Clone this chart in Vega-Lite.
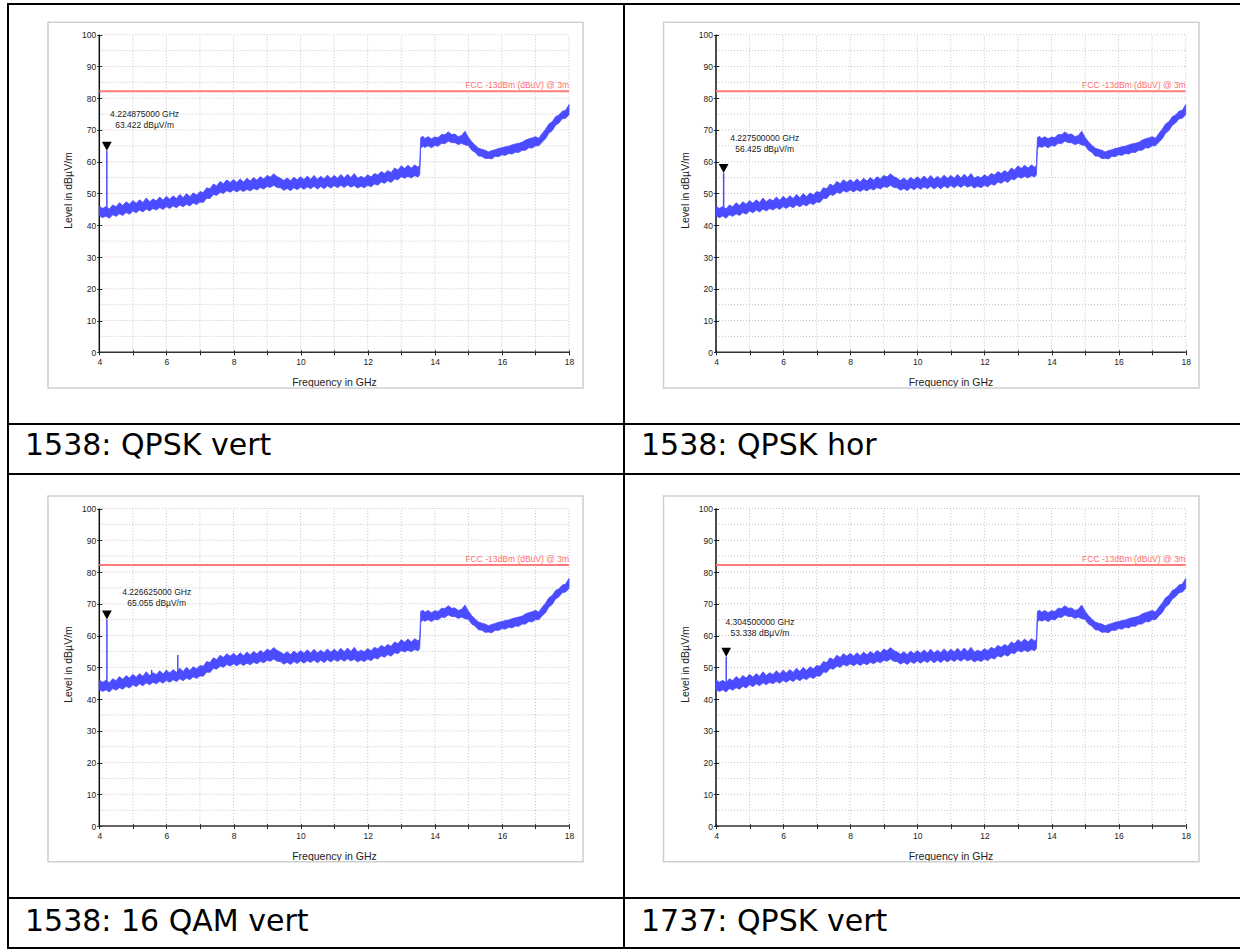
{
"$schema": "https://vega.github.io/schema/vega-lite/v6.json",
"background": "white",
"padding": {"left": 7, "top": 3, "right": 0, "bottom": 0},
"autosize": {"type": "pad"},
"bounds": "flush",
"spacing": 0,
"columns": 2,
"config": {"view": {"stroke": "black", "strokeWidth": 2}, "font": "Liberation Sans"},
"datasets": {
"trace": [
{"f":4.0,"lo":43.0,"hi":46.0},{"f":4.1,"lo":42.4,"hi":45.3},{"f":4.2,"lo":42.9,"hi":45.9},{"f":4.3,"lo":42.2,"hi":45.1},{"f":4.4,"lo":43.3,"hi":46.4},
{"f":4.5,"lo":42.8,"hi":45.8},{"f":4.6,"lo":43.6,"hi":47.1},{"f":4.7,"lo":43.1,"hi":46.2},{"f":4.8,"lo":44.0,"hi":47.4},{"f":4.9,"lo":43.5,"hi":46.6},
{"f":5.0,"lo":44.5,"hi":47.8},{"f":5.1,"lo":43.9,"hi":46.9},{"f":5.2,"lo":44.8,"hi":48.0},{"f":5.3,"lo":44.2,"hi":47.2},{"f":5.4,"lo":45.1,"hi":48.6},
{"f":5.5,"lo":44.5,"hi":47.4},{"f":5.6,"lo":45.3,"hi":48.3},{"f":5.7,"lo":44.8,"hi":47.7},{"f":5.8,"lo":45.6,"hi":48.9},{"f":5.9,"lo":45.0,"hi":47.9},
{"f":6.0,"lo":45.9,"hi":49.1},{"f":6.1,"lo":45.3,"hi":48.2},{"f":6.2,"lo":46.1,"hi":49.3},{"f":6.3,"lo":45.5,"hi":48.4},{"f":6.4,"lo":46.4,"hi":49.7},
{"f":6.5,"lo":45.8,"hi":48.7},{"f":6.6,"lo":46.6,"hi":50.0},{"f":6.7,"lo":46.1,"hi":49.0},{"f":6.8,"lo":47.0,"hi":50.2},{"f":6.9,"lo":46.5,"hi":49.5},
{"f":7.0,"lo":47.3,"hi":50.6},{"f":7.1,"lo":47.2,"hi":50.3},{"f":7.2,"lo":48.5,"hi":51.8},{"f":7.3,"lo":48.4,"hi":51.5},{"f":7.4,"lo":49.7,"hi":53.0},
{"f":7.5,"lo":49.4,"hi":52.4},{"f":7.6,"lo":50.4,"hi":53.8},{"f":7.7,"lo":50.0,"hi":53.1},{"f":7.8,"lo":50.9,"hi":54.3},{"f":7.9,"lo":50.4,"hi":53.5},
{"f":8.0,"lo":51.1,"hi":54.4},{"f":8.1,"lo":50.5,"hi":53.5},{"f":8.2,"lo":51.2,"hi":54.6},{"f":8.3,"lo":50.6,"hi":53.6},{"f":8.4,"lo":51.3,"hi":54.8},
{"f":8.5,"lo":50.8,"hi":53.9},{"f":8.6,"lo":51.6,"hi":55.0},{"f":8.7,"lo":51.1,"hi":54.2},{"f":8.8,"lo":51.9,"hi":55.3},{"f":8.9,"lo":51.4,"hi":54.6},
{"f":9.0,"lo":52.2,"hi":55.7},{"f":9.1,"lo":51.9,"hi":55.2},{"f":9.2,"lo":52.6,"hi":56.2},{"f":9.3,"lo":51.9,"hi":55.3},{"f":9.4,"lo":51.8,"hi":54.8},
{"f":9.5,"lo":51.0,"hi":54.1},{"f":9.6,"lo":51.6,"hi":54.9},{"f":9.7,"lo":50.9,"hi":54.0},{"f":9.8,"lo":51.8,"hi":55.1},{"f":9.9,"lo":51.2,"hi":54.3},
{"f":10.0,"lo":52.0,"hi":55.3},{"f":10.1,"lo":51.3,"hi":54.4},{"f":10.2,"lo":52.1,"hi":55.5},{"f":10.3,"lo":51.5,"hi":54.5},{"f":10.4,"lo":52.3,"hi":55.7},
{"f":10.5,"lo":51.4,"hi":54.5},{"f":10.6,"lo":52.2,"hi":55.4},{"f":10.7,"lo":51.5,"hi":54.6},{"f":10.8,"lo":52.4,"hi":55.8},{"f":10.9,"lo":51.7,"hi":54.7},
{"f":11.0,"lo":52.5,"hi":55.7},{"f":11.1,"lo":51.8,"hi":54.8},{"f":11.2,"lo":52.6,"hi":56.0},{"f":11.3,"lo":51.9,"hi":54.9},{"f":11.4,"lo":52.7,"hi":56.1},
{"f":11.5,"lo":52.0,"hi":55.0},{"f":11.6,"lo":52.5,"hi":56.3},{"f":11.7,"lo":51.7,"hi":54.8},{"f":11.8,"lo":52.3,"hi":55.4},{"f":11.9,"lo":51.8,"hi":54.9},
{"f":12.0,"lo":52.6,"hi":55.9},{"f":12.1,"lo":52.1,"hi":55.2},{"f":12.2,"lo":53.0,"hi":56.3},{"f":12.3,"lo":52.6,"hi":55.8},{"f":12.4,"lo":53.6,"hi":56.9},
{"f":12.5,"lo":53.2,"hi":56.3},{"f":12.6,"lo":54.0,"hi":57.2},{"f":12.7,"lo":53.5,"hi":56.6},{"f":12.8,"lo":54.6,"hi":58.0},{"f":12.9,"lo":54.3,"hi":57.4},
{"f":13.0,"lo":55.3,"hi":58.7},{"f":13.1,"lo":54.8,"hi":57.9},{"f":13.2,"lo":55.4,"hi":58.9},{"f":13.3,"lo":54.9,"hi":58.0},{"f":13.4,"lo":55.6,"hi":59.0},
{"f":13.5,"lo":55.2,"hi":58.3},{"f":13.55,"lo":55.9,"hi":58.9},{"f":13.58,"lo":64.2,"hi":67.6},{"f":13.65,"lo":64.9,"hi":68.0},{"f":13.7,"lo":64.5,"hi":67.3},
{"f":13.8,"lo":65.0,"hi":67.9},{"f":13.9,"lo":64.4,"hi":67.2},{"f":14.0,"lo":65.1,"hi":67.8},{"f":14.1,"lo":64.9,"hi":67.6},{"f":14.2,"lo":65.8,"hi":68.6},
{"f":14.3,"lo":65.7,"hi":68.5},{"f":14.4,"lo":66.5,"hi":69.4},{"f":14.5,"lo":66.0,"hi":68.6},{"f":14.6,"lo":66.0,"hi":68.7},{"f":14.7,"lo":65.4,"hi":67.9},
{"f":14.8,"lo":65.8,"hi":68.3},{"f":14.9,"lo":65.3,"hi":69.6},{"f":15.0,"lo":65.1,"hi":67.7},{"f":15.1,"lo":63.6,"hi":66.3},{"f":15.2,"lo":63.0,"hi":65.2},
{"f":15.3,"lo":61.8,"hi":64.3},{"f":15.4,"lo":61.7,"hi":63.9},{"f":15.5,"lo":61.0,"hi":63.6},{"f":15.6,"lo":61.1,"hi":63.1},{"f":15.7,"lo":60.9,"hi":63.5},
{"f":15.8,"lo":61.7,"hi":63.8},{"f":15.9,"lo":61.6,"hi":64.2},{"f":16.0,"lo":62.2,"hi":64.4},{"f":16.1,"lo":62.0,"hi":64.7},{"f":16.2,"lo":62.6,"hi":64.9},
{"f":16.3,"lo":62.4,"hi":65.3},{"f":16.4,"lo":63.0,"hi":65.6},{"f":16.5,"lo":62.9,"hi":65.8},{"f":16.6,"lo":63.6,"hi":66.1},{"f":16.7,"lo":63.6,"hi":66.8},
{"f":16.8,"lo":64.4,"hi":67.2},{"f":16.9,"lo":64.3,"hi":67.5},{"f":17.0,"lo":65.0,"hi":67.9},{"f":17.1,"lo":65.0,"hi":67.4},{"f":17.2,"lo":66.2,"hi":68.9},
{"f":17.3,"lo":67.2,"hi":70.2},{"f":17.4,"lo":69.0,"hi":71.9},{"f":17.5,"lo":69.8,"hi":72.6},{"f":17.6,"lo":71.5,"hi":74.2},{"f":17.7,"lo":72.2,"hi":74.7},
{"f":17.8,"lo":73.5,"hi":75.9},{"f":17.9,"lo":73.7,"hi":76.2},{"f":18.0,"lo":74.8,"hi":78.0}
],
"gx": [{"f":5},{"f":6},{"f":7},{"f":8},{"f":9},{"f":10},{"f":11},{"f":12},{"f":13},{"f":14},{"f":15},{"f":16},{"f":17},{"f":18}],
"gy": [{"v":5},{"v":10},{"v":15},{"v":20},{"v":25},{"v":30},{"v":35},{"v":40},{"v":45},{"v":50},{"v":55},{"v":60},{"v":65},{"v":70},{"v":75},{"v":80},{"v":85},{"v":90},{"v":95},{"v":100}],
"m1": [{"f":4.224875,"level":63.422,"base":44.6}],
"m2": [{"f":4.2275,"level":56.425,"base":44.6}],
"m3": [{"f":4.226625,"level":65.055,"base":44.6}],
"s3": [{"f":4.226625,"level":65.055,"base":44.6},{"f":5.56,"level":49.2,"base":46.5},{"f":5.99,"level":49.0,"base":47.0},{"f":6.34,"level":53.9,"base":47.5}],
"m4": [{"f":4.3045,"level":53.338,"base":44.6}]
},
"concat": [
{"width": 616, "height": 420, "layer": [
{"data": {"values": [{}]}, "mark": {"type": "rect", "fill": "white", "fillOpacity": 0, "stroke": "#cfcfcf", "strokeWidth": 1.5},
 "encoding": {
  "x": {"datum": 2.471, "type": "quantitative", "scale": {"domain": [1.2787, 19.639], "nice": false, "zero": false},
   "axis": {"values": [4,5,6,7,8,9,10,11,12,13,14,15,16,17,18], "labelExpr": "datum.value % 2 == 0 ? datum.label : ''", "domain": false, "grid": false, "offset": -74.2, "tickSize": 5, "tickColor": "#222", "tickWidth": 1, "labelPadding": 3, "labelFont": "Liberation Sans", "labelFontSize": 8.5, "labelColor": "#222", "labelFlush": false, "labelOverlap": false, "labelBound": false, "title": "Frequency in GHz", "titleFont": "Liberation Sans", "titleFontSize": 10.5, "titleFontWeight": "normal", "titleColor": "#222", "titleX": 326, "titleY": 36, "titleBaseline": "alphabetic", "titleAlign": "center"}},
  "x2": {"datum": 18.418},
  "y": {"datum": 103.9, "type": "quantitative", "scale": {"domain": [-22.576, 109.666], "nice": false, "zero": false},
   "axis": {"values": [0,5,10,15,20,25,30,35,40,45,50,55,60,65,70,75,80,85,90,95,100], "labelExpr": "datum.value % 10 == 0 ? datum.label : ''", "domain": false, "grid": false, "offset": -93.8, "tickSize": 5, "tickColor": "#222", "tickWidth": 1, "labelPadding": 1, "labelFont": "Liberation Sans", "labelFontSize": 8.5, "labelColor": "#222", "labelFlush": false, "labelOverlap": false, "labelBound": false, "title": "Level in dBµV/m", "titleFont": "Liberation Sans", "titleFontSize": 10.5, "titleFontWeight": "normal", "titleColor": "#222", "titleX": -30, "titleY": 186, "titleBaseline": "alphabetic", "titleAlign": "center", "titleAngle": -90}},
  "y2": {"datum": -11.24}}},
{"data": {"name": "gx"}, "mark": {"type": "rule", "color": "#c4c4c4", "strokeWidth": 1, "strokeDash": [1, 2]},
 "encoding": {"x": {"field": "f", "type": "quantitative", "scale": {"domain": [1.2787, 19.639], "nice": false, "zero": false}},
  "y": {"datum": 0, "type": "quantitative", "scale": {"domain": [-22.576, 109.666], "nice": false, "zero": false}}, "y2": {"datum": 100}}},
{"data": {"name": "gy"}, "mark": {"type": "rule", "color": "#c4c4c4", "strokeWidth": 1, "strokeDash": [1, 2]},
 "encoding": {"y": {"field": "v", "type": "quantitative", "scale": {"domain": [-22.576, 109.666], "nice": false, "zero": false}},
  "x": {"datum": 4, "type": "quantitative", "scale": {"domain": [1.2787, 19.639], "nice": false, "zero": false}}, "x2": {"datum": 18}}},
{"data": {"values": [{}]}, "mark": {"type": "rule", "color": "#333", "strokeWidth": 1.5},
 "encoding": {"y": {"datum": 0, "type": "quantitative", "scale": {"domain": [-22.576, 109.666], "nice": false, "zero": false}},
  "x": {"datum": 4, "type": "quantitative", "scale": {"domain": [1.2787, 19.639], "nice": false, "zero": false}}, "x2": {"datum": 18}}},
{"data": {"values": [{}]}, "mark": {"type": "rule", "color": "#111", "strokeWidth": 1.5},
 "encoding": {"x": {"datum": 4, "type": "quantitative", "scale": {"domain": [1.2787, 19.639], "nice": false, "zero": false}},
  "y": {"datum": 0, "type": "quantitative", "scale": {"domain": [-22.576, 109.666], "nice": false, "zero": false}}, "y2": {"datum": 100}}},
{"data": {"values": [{}]}, "mark": {"type": "rule", "color": "#ff7b7b", "strokeWidth": 2},
 "encoding": {"y": {"datum": 82.2, "type": "quantitative", "scale": {"domain": [-22.576, 109.666], "nice": false, "zero": false}},
  "x": {"datum": 4, "type": "quantitative", "scale": {"domain": [1.2787, 19.639], "nice": false, "zero": false}}, "x2": {"datum": 18}}},
{"data": {"values": [{}]}, "mark": {"type": "text", "color": "#ff6e6e", "font": "Liberation Sans", "fontSize": 8.5, "align": "right", "baseline": "bottom", "dy": -1},
 "encoding": {"text": {"value": "FCC -13dBm (dBuV) @ 3m"}, "x": {"datum": 18, "type": "quantitative", "scale": {"domain": [1.2787, 19.639], "nice": false, "zero": false}},
  "y": {"datum": 82.2, "type": "quantitative", "scale": {"domain": [-22.576, 109.666], "nice": false, "zero": false}}}},
{"data": {"name": "trace"}, "mark": {"type": "area", "color": "#4b4bff", "stroke": "#4b4bff", "strokeWidth": 0.8, "opacity": 1},
 "encoding": {"x": {"field": "f", "type": "quantitative", "scale": {"domain": [1.2787, 19.639], "nice": false, "zero": false}},
  "y": {"field": "hi", "type": "quantitative", "scale": {"domain": [-22.576, 109.666], "nice": false, "zero": false}}, "y2": {"field": "lo"}}},
{"data": {"name": "m1"}, "mark": {"type": "rule", "color": "#4b4bff", "strokeWidth": 1.5},
 "encoding": {"x": {"field": "f", "type": "quantitative", "scale": {"domain": [1.2787, 19.639], "nice": false, "zero": false}},
  "y": {"field": "base", "type": "quantitative", "scale": {"domain": [-22.576, 109.666], "nice": false, "zero": false}}, "y2": {"field": "level"}}},
{"data": {"name": "m1"}, "mark": {"type": "point", "shape": "M-1,-1.85L1,-1.85L0,0Z", "size": 95, "filled": true, "color": "black", "opacity": 1},
 "encoding": {"x": {"field": "f", "type": "quantitative", "scale": {"domain": [1.2787, 19.639], "nice": false, "zero": false}},
  "y": {"field": "level", "type": "quantitative", "scale": {"domain": [-22.576, 109.666], "nice": false, "zero": false}}}},
{"data": {"values": [{}]}, "mark": {"type": "text", "color": "#222", "font": "Liberation Sans", "fontSize": 8.5, "align": "center", "baseline": "middle", "lineHeight": 11},
 "encoding": {"text": {"value": ["4.224875000 GHz", "63.422 dBµV/m"]}, "x": {"datum": 5.35, "type": "quantitative", "scale": {"domain": [1.2787, 19.639], "nice": false, "zero": false}},
  "y": {"datum": 75.0, "type": "quantitative", "scale": {"domain": [-22.576, 109.666], "nice": false, "zero": false}}}}
]},
{"width": 618, "height": 420, "layer": [
{"data": {"values": [{}]}, "mark": {"type": "rect", "fill": "white", "fillOpacity": 0, "stroke": "#cfcfcf", "strokeWidth": 1.5},
 "encoding": {
  "x": {"datum": 2.435, "type": "quantitative", "scale": {"domain": [1.2578, 19.678], "nice": false, "zero": false},
   "axis": {"values": [4,5,6,7,8,9,10,11,12,13,14,15,16,17,18], "labelExpr": "datum.value % 2 == 0 ? datum.label : ''", "domain": false, "grid": false, "offset": -74.2, "tickSize": 5, "tickColor": "#222", "tickWidth": 1, "labelPadding": 3, "labelFont": "Liberation Sans", "labelFontSize": 8.5, "labelColor": "#222", "labelFlush": false, "labelOverlap": false, "labelBound": false, "title": "Frequency in GHz", "titleFont": "Liberation Sans", "titleFontSize": 10.5, "titleFontWeight": "normal", "titleColor": "#222", "titleX": 326.5, "titleY": 36, "titleBaseline": "alphabetic", "titleAlign": "center"}},
  "x2": {"datum": 18.396},
  "y": {"datum": 103.9, "type": "quantitative", "scale": {"domain": [-22.576, 109.666], "nice": false, "zero": false},
   "axis": {"values": [0,5,10,15,20,25,30,35,40,45,50,55,60,65,70,75,80,85,90,95,100], "labelExpr": "datum.value % 10 == 0 ? datum.label : ''", "domain": false, "grid": false, "offset": -94.5, "tickSize": 5, "tickColor": "#222", "tickWidth": 1, "labelPadding": 1, "labelFont": "Liberation Sans", "labelFontSize": 8.5, "labelColor": "#222", "labelFlush": false, "labelOverlap": false, "labelBound": false, "title": "Level in dBµV/m", "titleFont": "Liberation Sans", "titleFontSize": 10.5, "titleFontWeight": "normal", "titleColor": "#222", "titleX": -30, "titleY": 186, "titleBaseline": "alphabetic", "titleAlign": "center", "titleAngle": -90}},
  "y2": {"datum": -11.24}}},
{"data": {"name": "gx"}, "mark": {"type": "rule", "color": "#c4c4c4", "strokeWidth": 1, "strokeDash": [1, 2]},
 "encoding": {"x": {"field": "f", "type": "quantitative", "scale": {"domain": [1.2578, 19.678], "nice": false, "zero": false}},
  "y": {"datum": 0, "type": "quantitative", "scale": {"domain": [-22.576, 109.666], "nice": false, "zero": false}}, "y2": {"datum": 100}}},
{"data": {"name": "gy"}, "mark": {"type": "rule", "color": "#c4c4c4", "strokeWidth": 1, "strokeDash": [1, 2]},
 "encoding": {"y": {"field": "v", "type": "quantitative", "scale": {"domain": [-22.576, 109.666], "nice": false, "zero": false}},
  "x": {"datum": 4, "type": "quantitative", "scale": {"domain": [1.2578, 19.678], "nice": false, "zero": false}}, "x2": {"datum": 18}}},
{"data": {"values": [{}]}, "mark": {"type": "rule", "color": "#333", "strokeWidth": 1.5},
 "encoding": {"y": {"datum": 0, "type": "quantitative", "scale": {"domain": [-22.576, 109.666], "nice": false, "zero": false}},
  "x": {"datum": 4, "type": "quantitative", "scale": {"domain": [1.2578, 19.678], "nice": false, "zero": false}}, "x2": {"datum": 18}}},
{"data": {"values": [{}]}, "mark": {"type": "rule", "color": "#111", "strokeWidth": 1.5},
 "encoding": {"x": {"datum": 4, "type": "quantitative", "scale": {"domain": [1.2578, 19.678], "nice": false, "zero": false}},
  "y": {"datum": 0, "type": "quantitative", "scale": {"domain": [-22.576, 109.666], "nice": false, "zero": false}}, "y2": {"datum": 100}}},
{"data": {"values": [{}]}, "mark": {"type": "rule", "color": "#ff7b7b", "strokeWidth": 2},
 "encoding": {"y": {"datum": 82.2, "type": "quantitative", "scale": {"domain": [-22.576, 109.666], "nice": false, "zero": false}},
  "x": {"datum": 4, "type": "quantitative", "scale": {"domain": [1.2578, 19.678], "nice": false, "zero": false}}, "x2": {"datum": 18}}},
{"data": {"values": [{}]}, "mark": {"type": "text", "color": "#ff6e6e", "font": "Liberation Sans", "fontSize": 8.5, "align": "right", "baseline": "bottom", "dy": -1},
 "encoding": {"text": {"value": "FCC -13dBm (dBuV) @ 3m"}, "x": {"datum": 18, "type": "quantitative", "scale": {"domain": [1.2578, 19.678], "nice": false, "zero": false}},
  "y": {"datum": 82.2, "type": "quantitative", "scale": {"domain": [-22.576, 109.666], "nice": false, "zero": false}}}},
{"data": {"name": "trace"}, "mark": {"type": "area", "color": "#4b4bff", "stroke": "#4b4bff", "strokeWidth": 0.8, "opacity": 1},
 "encoding": {"x": {"field": "f", "type": "quantitative", "scale": {"domain": [1.2578, 19.678], "nice": false, "zero": false}},
  "y": {"field": "hi", "type": "quantitative", "scale": {"domain": [-22.576, 109.666], "nice": false, "zero": false}}, "y2": {"field": "lo"}}},
{"data": {"name": "m2"}, "mark": {"type": "rule", "color": "#4b4bff", "strokeWidth": 1.5},
 "encoding": {"x": {"field": "f", "type": "quantitative", "scale": {"domain": [1.2578, 19.678], "nice": false, "zero": false}},
  "y": {"field": "base", "type": "quantitative", "scale": {"domain": [-22.576, 109.666], "nice": false, "zero": false}}, "y2": {"field": "level"}}},
{"data": {"name": "m2"}, "mark": {"type": "point", "shape": "M-1,-1.85L1,-1.85L0,0Z", "size": 95, "filled": true, "color": "black", "opacity": 1},
 "encoding": {"x": {"field": "f", "type": "quantitative", "scale": {"domain": [1.2578, 19.678], "nice": false, "zero": false}},
  "y": {"field": "level", "type": "quantitative", "scale": {"domain": [-22.576, 109.666], "nice": false, "zero": false}}}},
{"data": {"values": [{}]}, "mark": {"type": "text", "color": "#222", "font": "Liberation Sans", "fontSize": 8.5, "align": "center", "baseline": "middle", "lineHeight": 11},
 "encoding": {"text": {"value": ["4.227500000 GHz", "56.425 dBµV/m"]}, "x": {"datum": 5.45, "type": "quantitative", "scale": {"domain": [1.2578, 19.678], "nice": false, "zero": false}},
  "y": {"datum": 67.5, "type": "quantitative", "scale": {"domain": [-22.576, 109.666], "nice": false, "zero": false}}}}
]},
{"width": 616, "height": 50, "data": {"values": [{"caption": "1538: QPSK vert"}]},
 "mark": {"type": "text", "align": "left", "baseline": "alphabetic", "dx": 17, "dy": 31, "font": "DejaVu Sans", "fontSize": 30, "color": "black"},
 "encoding": {"text": {"field": "caption"}, "x": {"value": 0}, "y": {"value": 0}}},
{"width": 618, "height": 50, "data": {"values": [{"caption": "1538: QPSK hor"}]},
 "mark": {"type": "text", "align": "left", "baseline": "alphabetic", "dx": 17, "dy": 31, "font": "DejaVu Sans", "fontSize": 30, "color": "black"},
 "encoding": {"text": {"field": "caption"}, "x": {"value": 0}, "y": {"value": 0}}},
{"width": 616, "height": 424, "layer": [
{"data": {"values": [{}]}, "mark": {"type": "rect", "fill": "white", "fillOpacity": 0, "stroke": "#cfcfcf", "strokeWidth": 1.5},
 "encoding": {
  "x": {"datum": 2.471, "type": "quantitative", "scale": {"domain": [1.2787, 19.639], "nice": false, "zero": false},
   "axis": {"values": [4,5,6,7,8,9,10,11,12,13,14,15,16,17,18], "labelExpr": "datum.value % 2 == 0 ? datum.label : ''", "domain": false, "grid": false, "offset": -74.4, "tickSize": 5, "tickColor": "#222", "tickWidth": 1, "labelPadding": 3, "labelFont": "Liberation Sans", "labelFontSize": 8.5, "labelColor": "#222", "labelFlush": false, "labelOverlap": false, "labelBound": false, "title": "Frequency in GHz", "titleFont": "Liberation Sans", "titleFontSize": 10.5, "titleFontWeight": "normal", "titleColor": "#222", "titleX": 326, "titleY": 36, "titleBaseline": "alphabetic", "titleAlign": "center"}},
  "x2": {"datum": 18.418},
  "y": {"datum": 103.9, "type": "quantitative", "scale": {"domain": [-22.638, 110.863], "nice": false, "zero": false},
   "axis": {"values": [0,5,10,15,20,25,30,35,40,45,50,55,60,65,70,75,80,85,90,95,100], "labelExpr": "datum.value % 10 == 0 ? datum.label : ''", "domain": false, "grid": false, "offset": -93.8, "tickSize": 5, "tickColor": "#222", "tickWidth": 1, "labelPadding": 1, "labelFont": "Liberation Sans", "labelFontSize": 8.5, "labelColor": "#222", "labelFlush": false, "labelOverlap": false, "labelBound": false, "title": "Level in dBµV/m", "titleFont": "Liberation Sans", "titleFontSize": 10.5, "titleFontWeight": "normal", "titleColor": "#222", "titleX": -30, "titleY": 190, "titleBaseline": "alphabetic", "titleAlign": "center", "titleAngle": -90}},
  "y2": {"datum": -11.24}}},
{"data": {"name": "gx"}, "mark": {"type": "rule", "color": "#c4c4c4", "strokeWidth": 1, "strokeDash": [1, 2]},
 "encoding": {"x": {"field": "f", "type": "quantitative", "scale": {"domain": [1.2787, 19.639], "nice": false, "zero": false}},
  "y": {"datum": 0, "type": "quantitative", "scale": {"domain": [-22.638, 110.863], "nice": false, "zero": false}}, "y2": {"datum": 100}}},
{"data": {"name": "gy"}, "mark": {"type": "rule", "color": "#c4c4c4", "strokeWidth": 1, "strokeDash": [1, 2]},
 "encoding": {"y": {"field": "v", "type": "quantitative", "scale": {"domain": [-22.638, 110.863], "nice": false, "zero": false}},
  "x": {"datum": 4, "type": "quantitative", "scale": {"domain": [1.2787, 19.639], "nice": false, "zero": false}}, "x2": {"datum": 18}}},
{"data": {"values": [{}]}, "mark": {"type": "rule", "color": "#333", "strokeWidth": 1.5},
 "encoding": {"y": {"datum": 0, "type": "quantitative", "scale": {"domain": [-22.638, 110.863], "nice": false, "zero": false}},
  "x": {"datum": 4, "type": "quantitative", "scale": {"domain": [1.2787, 19.639], "nice": false, "zero": false}}, "x2": {"datum": 18}}},
{"data": {"values": [{}]}, "mark": {"type": "rule", "color": "#111", "strokeWidth": 1.5},
 "encoding": {"x": {"datum": 4, "type": "quantitative", "scale": {"domain": [1.2787, 19.639], "nice": false, "zero": false}},
  "y": {"datum": 0, "type": "quantitative", "scale": {"domain": [-22.638, 110.863], "nice": false, "zero": false}}, "y2": {"datum": 100}}},
{"data": {"values": [{}]}, "mark": {"type": "rule", "color": "#ff7b7b", "strokeWidth": 2},
 "encoding": {"y": {"datum": 82.2, "type": "quantitative", "scale": {"domain": [-22.638, 110.863], "nice": false, "zero": false}},
  "x": {"datum": 4, "type": "quantitative", "scale": {"domain": [1.2787, 19.639], "nice": false, "zero": false}}, "x2": {"datum": 18}}},
{"data": {"values": [{}]}, "mark": {"type": "text", "color": "#ff6e6e", "font": "Liberation Sans", "fontSize": 8.5, "align": "right", "baseline": "bottom", "dy": -1},
 "encoding": {"text": {"value": "FCC -13dBm (dBuV) @ 3m"}, "x": {"datum": 18, "type": "quantitative", "scale": {"domain": [1.2787, 19.639], "nice": false, "zero": false}},
  "y": {"datum": 82.2, "type": "quantitative", "scale": {"domain": [-22.638, 110.863], "nice": false, "zero": false}}}},
{"data": {"name": "trace"}, "mark": {"type": "area", "color": "#4b4bff", "stroke": "#4b4bff", "strokeWidth": 0.8, "opacity": 1},
 "encoding": {"x": {"field": "f", "type": "quantitative", "scale": {"domain": [1.2787, 19.639], "nice": false, "zero": false}},
  "y": {"field": "hi", "type": "quantitative", "scale": {"domain": [-22.638, 110.863], "nice": false, "zero": false}}, "y2": {"field": "lo"}}},
{"data": {"name": "s3"}, "mark": {"type": "rule", "color": "#4b4bff", "strokeWidth": 1.5},
 "encoding": {"x": {"field": "f", "type": "quantitative", "scale": {"domain": [1.2787, 19.639], "nice": false, "zero": false}},
  "y": {"field": "base", "type": "quantitative", "scale": {"domain": [-22.638, 110.863], "nice": false, "zero": false}}, "y2": {"field": "level"}}},
{"data": {"name": "m3"}, "mark": {"type": "point", "shape": "M-1,-1.85L1,-1.85L0,0Z", "size": 95, "filled": true, "color": "black", "opacity": 1},
 "encoding": {"x": {"field": "f", "type": "quantitative", "scale": {"domain": [1.2787, 19.639], "nice": false, "zero": false}},
  "y": {"field": "level", "type": "quantitative", "scale": {"domain": [-22.638, 110.863], "nice": false, "zero": false}}}},
{"data": {"values": [{}]}, "mark": {"type": "text", "color": "#222", "font": "Liberation Sans", "fontSize": 8.5, "align": "center", "baseline": "middle", "lineHeight": 11},
 "encoding": {"text": {"value": ["4.226625000 GHz", "65.055 dBµV/m"]}, "x": {"datum": 5.71, "type": "quantitative", "scale": {"domain": [1.2787, 19.639], "nice": false, "zero": false}},
  "y": {"datum": 73.6, "type": "quantitative", "scale": {"domain": [-22.638, 110.863], "nice": false, "zero": false}}}}
]},
{"width": 618, "height": 424, "layer": [
{"data": {"values": [{}]}, "mark": {"type": "rect", "fill": "white", "fillOpacity": 0, "stroke": "#cfcfcf", "strokeWidth": 1.5},
 "encoding": {
  "x": {"datum": 2.435, "type": "quantitative", "scale": {"domain": [1.2578, 19.678], "nice": false, "zero": false},
   "axis": {"values": [4,5,6,7,8,9,10,11,12,13,14,15,16,17,18], "labelExpr": "datum.value % 2 == 0 ? datum.label : ''", "domain": false, "grid": false, "offset": -74.4, "tickSize": 5, "tickColor": "#222", "tickWidth": 1, "labelPadding": 3, "labelFont": "Liberation Sans", "labelFontSize": 8.5, "labelColor": "#222", "labelFlush": false, "labelOverlap": false, "labelBound": false, "title": "Frequency in GHz", "titleFont": "Liberation Sans", "titleFontSize": 10.5, "titleFontWeight": "normal", "titleColor": "#222", "titleX": 326.5, "titleY": 36, "titleBaseline": "alphabetic", "titleAlign": "center"}},
  "x2": {"datum": 18.396},
  "y": {"datum": 103.9, "type": "quantitative", "scale": {"domain": [-22.638, 110.863], "nice": false, "zero": false},
   "axis": {"values": [0,5,10,15,20,25,30,35,40,45,50,55,60,65,70,75,80,85,90,95,100], "labelExpr": "datum.value % 10 == 0 ? datum.label : ''", "domain": false, "grid": false, "offset": -94.5, "tickSize": 5, "tickColor": "#222", "tickWidth": 1, "labelPadding": 1, "labelFont": "Liberation Sans", "labelFontSize": 8.5, "labelColor": "#222", "labelFlush": false, "labelOverlap": false, "labelBound": false, "title": "Level in dBµV/m", "titleFont": "Liberation Sans", "titleFontSize": 10.5, "titleFontWeight": "normal", "titleColor": "#222", "titleX": -30, "titleY": 190, "titleBaseline": "alphabetic", "titleAlign": "center", "titleAngle": -90}},
  "y2": {"datum": -11.24}}},
{"data": {"name": "gx"}, "mark": {"type": "rule", "color": "#c4c4c4", "strokeWidth": 1, "strokeDash": [1, 2]},
 "encoding": {"x": {"field": "f", "type": "quantitative", "scale": {"domain": [1.2578, 19.678], "nice": false, "zero": false}},
  "y": {"datum": 0, "type": "quantitative", "scale": {"domain": [-22.638, 110.863], "nice": false, "zero": false}}, "y2": {"datum": 100}}},
{"data": {"name": "gy"}, "mark": {"type": "rule", "color": "#c4c4c4", "strokeWidth": 1, "strokeDash": [1, 2]},
 "encoding": {"y": {"field": "v", "type": "quantitative", "scale": {"domain": [-22.638, 110.863], "nice": false, "zero": false}},
  "x": {"datum": 4, "type": "quantitative", "scale": {"domain": [1.2578, 19.678], "nice": false, "zero": false}}, "x2": {"datum": 18}}},
{"data": {"values": [{}]}, "mark": {"type": "rule", "color": "#333", "strokeWidth": 1.5},
 "encoding": {"y": {"datum": 0, "type": "quantitative", "scale": {"domain": [-22.638, 110.863], "nice": false, "zero": false}},
  "x": {"datum": 4, "type": "quantitative", "scale": {"domain": [1.2578, 19.678], "nice": false, "zero": false}}, "x2": {"datum": 18}}},
{"data": {"values": [{}]}, "mark": {"type": "rule", "color": "#111", "strokeWidth": 1.5},
 "encoding": {"x": {"datum": 4, "type": "quantitative", "scale": {"domain": [1.2578, 19.678], "nice": false, "zero": false}},
  "y": {"datum": 0, "type": "quantitative", "scale": {"domain": [-22.638, 110.863], "nice": false, "zero": false}}, "y2": {"datum": 100}}},
{"data": {"values": [{}]}, "mark": {"type": "rule", "color": "#ff7b7b", "strokeWidth": 2},
 "encoding": {"y": {"datum": 82.2, "type": "quantitative", "scale": {"domain": [-22.638, 110.863], "nice": false, "zero": false}},
  "x": {"datum": 4, "type": "quantitative", "scale": {"domain": [1.2578, 19.678], "nice": false, "zero": false}}, "x2": {"datum": 18}}},
{"data": {"values": [{}]}, "mark": {"type": "text", "color": "#ff6e6e", "font": "Liberation Sans", "fontSize": 8.5, "align": "right", "baseline": "bottom", "dy": -1},
 "encoding": {"text": {"value": "FCC -13dBm (dBuV) @ 3m"}, "x": {"datum": 18, "type": "quantitative", "scale": {"domain": [1.2578, 19.678], "nice": false, "zero": false}},
  "y": {"datum": 82.2, "type": "quantitative", "scale": {"domain": [-22.638, 110.863], "nice": false, "zero": false}}}},
{"data": {"name": "trace"}, "mark": {"type": "area", "color": "#4b4bff", "stroke": "#4b4bff", "strokeWidth": 0.8, "opacity": 1},
 "encoding": {"x": {"field": "f", "type": "quantitative", "scale": {"domain": [1.2578, 19.678], "nice": false, "zero": false}},
  "y": {"field": "hi", "type": "quantitative", "scale": {"domain": [-22.638, 110.863], "nice": false, "zero": false}}, "y2": {"field": "lo"}}},
{"data": {"name": "m4"}, "mark": {"type": "rule", "color": "#4b4bff", "strokeWidth": 1.5},
 "encoding": {"x": {"field": "f", "type": "quantitative", "scale": {"domain": [1.2578, 19.678], "nice": false, "zero": false}},
  "y": {"field": "base", "type": "quantitative", "scale": {"domain": [-22.638, 110.863], "nice": false, "zero": false}}, "y2": {"field": "level"}}},
{"data": {"name": "m4"}, "mark": {"type": "point", "shape": "M-1,-1.85L1,-1.85L0,0Z", "size": 95, "filled": true, "color": "black", "opacity": 1},
 "encoding": {"x": {"field": "f", "type": "quantitative", "scale": {"domain": [1.2578, 19.678], "nice": false, "zero": false}},
  "y": {"field": "level", "type": "quantitative", "scale": {"domain": [-22.638, 110.863], "nice": false, "zero": false}}}},
{"data": {"values": [{}]}, "mark": {"type": "text", "color": "#222", "font": "Liberation Sans", "fontSize": 8.5, "align": "center", "baseline": "middle", "lineHeight": 11},
 "encoding": {"text": {"value": ["4.304500000 GHz", "53.338 dBµV/m"]}, "x": {"datum": 5.31, "type": "quantitative", "scale": {"domain": [1.2578, 19.678], "nice": false, "zero": false}},
  "y": {"datum": 64.4, "type": "quantitative", "scale": {"domain": [-22.638, 110.863], "nice": false, "zero": false}}}}
]},
{"width": 616, "height": 50, "data": {"values": [{"caption": "1538: 16 QAM vert"}]},
 "mark": {"type": "text", "align": "left", "baseline": "alphabetic", "dx": 17, "dy": 33, "font": "DejaVu Sans", "fontSize": 30, "color": "black"},
 "encoding": {"text": {"field": "caption"}, "x": {"value": 0}, "y": {"value": 0}}},
{"width": 618, "height": 50, "data": {"values": [{"caption": "1737: QPSK vert"}]},
 "mark": {"type": "text", "align": "left", "baseline": "alphabetic", "dx": 17, "dy": 33, "font": "DejaVu Sans", "fontSize": 30, "color": "black"},
 "encoding": {"text": {"field": "caption"}, "x": {"value": 0}, "y": {"value": 0}}}
]
}
